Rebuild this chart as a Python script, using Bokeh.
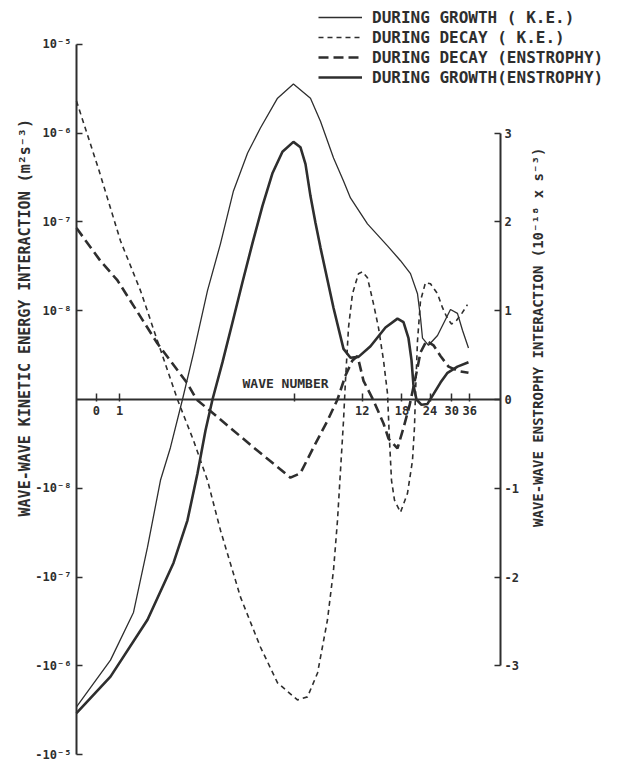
import math
import numpy as np
from bokeh.plotting import figure
from bokeh.models import (Range1d, LinearAxis, LogAxis, FixedTicker, Legend,
                          LegendItem, Label)
from bokeh.embed import file_html
from bokeh.resources import INLINE

# ---------------- data ----------------
# wave-wave kinetic energy interaction during growth (m^2 s^-3)
ke_growth_n = [0.644, 0.912, 1.154, 1.332, 1.521, 1.685, 1.905, 2.132, 2.461, 2.81,
               3.21, 3.71, 4.23, 5.04, 5.93, 7.06, 7.82, 8.94, 9.90, 10.63,
               12.65, 15.53, 17.74, 19.65, 21.11, 21.77, 22.22, 23.63, 25.91, 29.59,
               31.78, 33.45, 35.57]
ke_growth = [-2.89e-6, -8.6e-7, -2.5e-7, -4.6e-8, -9.1e-9, -5.4e-9, 0.0, 5.2e-9, 1.68e-8, 5.66e-8,
             2.23e-7, 5.96e-7, 1.14e-6, 2.47e-6, 3.56e-6, 2.47e-6, 1.36e-6, 5.24e-7, 2.89e-7, 1.86e-7,
             9.5e-8, 5.37e-8, 3.65e-8, 2.61e-8, 1.55e-8, 9.2e-9, 6.9e-9, 6.1e-9, 7.2e-9, 1.03e-8,
             9.7e-9, 7.8e-9, 5.8e-9]

# wave-wave kinetic energy interaction during decay (m^2 s^-3)
ke_decay_n = [0.644, 0.807, 1.01, 1.24, 1.475, 1.81, 2.132, 2.461, 2.81, 3.45,
              4.23, 5.04, 6.18, 6.85, 7.59, 8.40, 8.94, 9.31, 9.60, 9.90,
              10.10, 10.42, 10.85, 11.54, 12.02, 12.65, 13.45, 14.16, 14.91, 15.53,
              15.85, 16.18, 16.68, 17.74, 19.05, 20.05, 20.47, 20.68, 21.11, 21.77,
              22.91, 24.11, 25.91, 27.27, 28.7, 29.9, 31.46, 33.45, 35.2]
ke_decay = [2.29e-6, 3.94e-7, 6.12e-8, 1.68e-8, 6.6e-9, 0.0, -4.6e-9, -9.1e-9, -2.96e-8, -1.68e-7,
            -6.12e-7, -1.55e-6, -2.41e-6, -2.23e-6, -1.20e-6, -3.04e-7, -8.3e-8, -2.29e-8, -8.0e-9, -2.4e-9,
            2.1e-9, 8.1e-9, 1.55e-8, 2.61e-8, 2.74e-8, 2.35e-8, 1.20e-8, 8.1e-9, 4.4e-9, 6.7e-10,
            -4.6e-9, -9.1e-9, -1.36e-8, -1.86e-8, -1.14e-8, -6.9e-9, -3.1e-9, 6.7e-10, 6.6e-9, 1.29e-8,
            2.07e-8, 2.01e-8, 1.55e-8, 1.08e-8, 9.1e-9, 8.5e-9, 8.9e-9, 9.8e-9, 1.17e-8]

# wave-wave enstrophy interaction during decay (10^-18 s^-3)
ens_decay_n = [0.644, 0.823, 0.98, 1.475, 2.005, 2.2, 2.62, 3.94, 4.93, 5.75,
               6.37, 7.28, 8.40, 9.31, 10.10, 10.85, 11.43, 12.15, 13.45, 14.91,
               15.69, 17.2, 18.29, 19.45, 20.89, 21.77, 23.14, 24.86, 26.71, 29.0,
               32.11, 35.57]
ens_decay = [1.93, 1.56, 1.34, 0.63, 0.18, 0.0, -0.16, -0.54, -0.74, -0.88,
             -0.83, -0.54, -0.24, 0.0, 0.27, 0.44, 0.49, 0.21, -0.01, -0.27,
             -0.44, -0.55, -0.32, -0.07, 0.30, 0.53, 0.66, 0.61, 0.49, 0.37,
             0.32, 0.30]

# wave-wave enstrophy interaction during growth (10^-18 s^-3)
ens_growth_n = [0.644, 0.912, 1.332, 1.738, 2.005, 2.222, 2.411, 2.59, 2.87, 3.18,
                3.52, 3.90, 4.32, 4.79, 5.30, 5.93, 6.37, 6.71, 7.06, 7.43,
                7.82, 8.94, 9.90, 10.63, 11.54, 13.05, 15.21, 17.2, 18.29, 19.25,
                19.86, 20.26, 20.89, 21.99, 23.38, 24.86, 26.71, 28.7, 31.78, 35.57]
ens_growth = [-3.53, -3.12, -2.48, -1.84, -1.36, -0.83, -0.35, 0.0, 0.42, 0.87,
              1.32, 1.76, 2.18, 2.55, 2.79, 2.90, 2.84, 2.65, 2.29, 1.99,
              1.71, 1.03, 0.57, 0.47, 0.48, 0.60, 0.81, 0.91, 0.87, 0.69,
              0.44, 0.16, 0.0, -0.06, -0.05, 0.06, 0.19, 0.30, 0.37, 0.42]

# axis ticks / labels
wave_ticks = [0.79, 1, 6, 12, 18, 24, 30, 36]
wave_labels = ["0", "1", "", "12", "18", "24", "30", "36"]
ke_ticks = [4, 3, 2, 1, -1, -2, -3, -4]
ke_labels = ["10⁻⁵", "10⁻⁶", "10⁻⁷", "10⁻⁸", "-10⁻⁸", "-10⁻⁷", "-10⁻⁶", "-10⁻⁵"]
ens_ticks = [3, 2, 1, 0, -1, -2, -3]
ens_labels = ["3", "2", "1", "0", "-1", "-2", "-3"]

legend_labels = ["DURING GROWTH ( K.E.)", "DURING DECAY ( K.E.)",
                 "DURING DECAY (ENSTROPHY)", "DURING GROWTH(ENSTROPHY)"]

# wave-number extent of the drawn axes
N_MIN, N_MAX = 0.644, 49.4


def symlog(v, lin=1e-8):
    """signed log scale: one unit per decade, linear inside +-1e-8"""
    v = np.asarray(v, dtype=float)
    a = np.abs(v)
    return np.where(a <= lin, v / lin,
                    np.sign(v) * (1.0 + np.log10(np.maximum(a, lin) / lin)))


INK = "#2e2e2e"
FONT = "DejaVu Sans Mono"

# the frame fills the whole canvas; axes sit at fixed locations inside it
p = figure(frame_width=625, frame_height=762, x_axis_type="log",
           x_range=Range1d(0.2959, 177.4), y_range=Range1d(-4.087, 4.492),
           x_axis_location=None, y_axis_location=None,
           output_backend="svg", toolbar_location=None,
           min_border_left=0, min_border_right=0,
           min_border_top=0, min_border_bottom=0)
p.extra_y_ranges = {"ens": Range1d(-4.087, 4.492)}
p.xgrid.visible = False
p.ygrid.visible = False
p.outline_line_color = None

# axes
xaxis = LogAxis(fixed_location=0, bounds=(N_MIN, N_MAX),
                ticker=FixedTicker(ticks=wave_ticks),
                major_label_overrides=dict(zip(wave_ticks, wave_labels)))
lax = LinearAxis(fixed_location=N_MIN, bounds=(-4, 4), ticker=FixedTicker(ticks=ke_ticks),
                 major_label_overrides=dict(zip(ke_ticks, ke_labels)))
rax = LinearAxis(fixed_location=N_MAX, y_range_name="ens", bounds=(-3, 3),
                 ticker=FixedTicker(ticks=ens_ticks),
                 major_label_overrides=dict(zip(ens_ticks, ens_labels)))
for ax in (xaxis, lax, rax):
    ax.axis_line_color = INK
    ax.axis_line_width = 2
    ax.major_tick_line_color = INK
    ax.major_tick_line_width = 1.5
    ax.minor_tick_line_color = None
    ax.major_label_text_font = FONT
    ax.major_label_text_font_style = "bold"
    ax.major_label_text_color = INK
    ax.major_label_text_font_size = "12px"
xaxis.major_tick_in = 6
xaxis.major_tick_out = 2
xaxis.major_label_standoff = 5
lax.major_tick_in = 6
lax.major_tick_out = 0
lax.major_label_standoff = 5
rax.major_tick_in = 6
rax.major_tick_out = 0
rax.major_label_standoff = 4
p.add_layout(xaxis, "below")
p.add_layout(lax, "left")
p.add_layout(rax, "right")

# curves
r_kg = p.line(ke_growth_n, symlog(ke_growth), line_color=INK, line_width=1.3)
r_kd = p.line(ke_decay_n, symlog(ke_decay), line_color=INK, line_width=1.6,
              line_dash="5 4")
r_ed = p.line(ens_decay_n, ens_decay, y_range_name="ens", line_color=INK,
              line_width=2.6, line_dash="10 5")
r_eg = p.line(ens_growth_n, ens_growth, y_range_name="ens", line_color=INK,
              line_width=2.6)

legend = Legend(items=[LegendItem(label=legend_labels[0], renderers=[r_kg]),
                       LegendItem(label=legend_labels[1], renderers=[r_kd]),
                       LegendItem(label=legend_labels[2], renderers=[r_ed]),
                       LegendItem(label=legend_labels[3], renderers=[r_eg])],
                location=(318, 675), orientation="vertical",
                glyph_width=44, glyph_height=20, label_height=20, spacing=0,
                padding=0, margin=0, label_standoff=10,
                border_line_color=None, background_fill_alpha=0,
                label_text_font=FONT, label_text_font_style="bold",
                label_text_font_size="16px", label_text_color=INK)
p.add_layout(legend, "center")

# titles
p.add_layout(Label(x=0.382, y=0.92, text="WAVE-WAVE KINETIC ENERGY INTERACTION (m²s⁻³)",
                   angle=math.pi / 2, text_align="center", text_baseline="middle",
                   text_font=FONT, text_font_style="bold", text_font_size="15px",
                   text_color=INK))
p.add_layout(Label(x=72.8, y=0.70, y_range_name="ens",
                   text="WAVE-WAVE ENSTROPHY INTERACTION (10⁻¹⁸ x s⁻³)",
                   angle=math.pi / 2, text_align="center", text_baseline="middle",
                   text_font=FONT, text_font_style="bold", text_font_size="14px",
                   text_color=INK))
p.add_layout(Label(x=5.47, y=0.18, text="WAVE NUMBER", text_align="center",
                   text_baseline="middle", text_font=FONT, text_font_style="bold",
                   text_font_size="13px", text_color=INK))

open("out.html", "w").write(file_html(p, INLINE))
